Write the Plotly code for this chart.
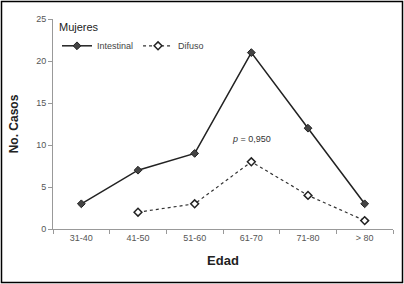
import plotly.graph_objects as go

categories = ["31-40", "41-50", "51-60", "61-70", "71-80", "> 80"]
intestinal = [3, 7, 9, 21, 12, 3]
difuso = [None, 2, 3, 8, 4, 1]
y_ticks = [0, 5, 10, 15, 20, 25]

fig = go.Figure()
fig.add_trace(go.Scatter(
    x=categories, y=intestinal, name="Intestinal", mode="lines+markers",
    line=dict(color="#222222", width=1.5),
    marker=dict(symbol="diamond", size=6, color="#444444", line=dict(color="#222222", width=1)),
))
fig.add_trace(go.Scatter(
    x=categories, y=difuso, name="Difuso", mode="lines+markers",
    line=dict(color="#333333", width=1.2, dash="dot"),
    marker=dict(symbol="diamond", size=6, color="white", line=dict(color="#222222", width=1.5)),
))

W, H = 404, 284
L, R, T, B = 53, 11, 19, 55
pw, ph = W - L - R, H - T - B

def px(x):
    return (x - L) / pw

def py(y):
    return (H - B - y) / ph

fig.add_shape(type="rect", xref="paper", yref="paper",
              x0=px(1.5), x1=px(402.5), y0=py(282.5), y1=py(1.5),
              line=dict(color="black", width=1.5))

fig.add_annotation(x="61-70", y=10.7, text="<i>p</i> = 0,950", showarrow=False,
                   font=dict(size=9, color="#333333"))

fig.update_layout(
    width=W, height=H,
    margin=dict(l=L, r=R, t=T, b=B),
    paper_bgcolor="white", plot_bgcolor="white",
    font=dict(family="Liberation Sans, Arial, sans-serif", color="#333333"),
    showlegend=True,
    legend=dict(
        orientation="h", x=px(57), y=py(17), xanchor="left", yanchor="top",
        title=dict(text="Mujeres", side="top", font=dict(size=11, color="#222222")),
        font=dict(size=9, color="#444444"),
        bgcolor="rgba(0,0,0,0)", itemwidth=30, tracegroupgap=0,
    ),
    xaxis=dict(
        type="category", categoryorder="array", categoryarray=categories,
        range=[-0.5, 5.5],
        showline=True, linecolor="#999999", linewidth=1,
        ticks="outside", tickson="boundaries", ticklen=4, tickcolor="#999999",
        tickfont=dict(size=9, color="#555555"),
        showgrid=False, zeroline=False,
        title=dict(text="<b>Edad</b>", font=dict(size=13, color="#222222"), standoff=14),
    ),
    yaxis=dict(
        range=[0, 25], tickvals=y_ticks,
        showline=True, linecolor="#999999", linewidth=1,
        ticks="outside", ticklen=4, tickcolor="#999999",
        tickfont=dict(size=9, color="#555555"),
        showgrid=False, zeroline=False,
        title=dict(text="<b>No. Casos</b>", font=dict(size=12, color="#222222"), standoff=14),
    ),
)

fig.write_html("out.html", config={"displayModeBar": False},
               post_script="document.body.style.margin='0';document.body.style.overflow='hidden';")
